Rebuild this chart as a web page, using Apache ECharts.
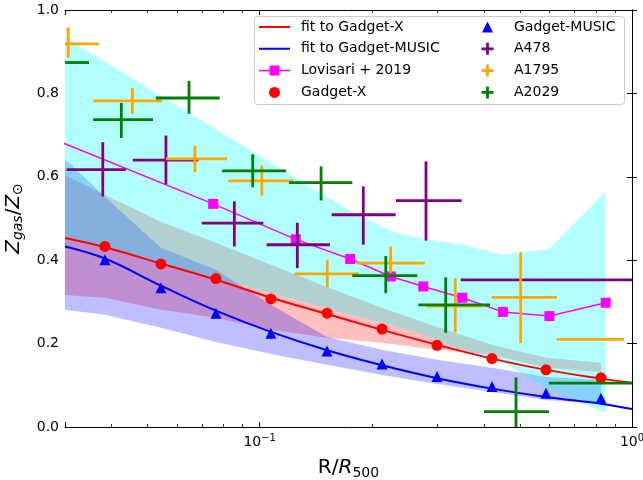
<!DOCTYPE html>
<html><head><meta charset="utf-8">
<script src="https://cdn.jsdelivr.net/npm/echarts@6/dist/echarts.min.js"></script>
<style>html,body{margin:0;padding:0;background:#fff}#c{width:643px;height:480px}</style>
</head><body><div id="c"></div>
<script>
// ---------- data ----------
const xMajorTicks = [0.1, 1];
const xMajorLabels = ['10{sup|−1}', '10{sup|0}'];
const xMinorTicks = [0.04, 0.05, 0.06, 0.07, 0.08, 0.09, 0.2, 0.3, 0.4, 0.5, 0.6, 0.7, 0.8, 0.9];

const gadgetR = [0.0384, 0.0543, 0.0763, 0.1072, 0.1517, 0.2131, 0.2995, 0.4207, 0.5876, 0.8257];
const gadgetXZ = [0.433, 0.391, 0.356, 0.307, 0.273, 0.235, 0.196, 0.164, 0.137, 0.118];
const musicZ = [0.401, 0.334, 0.273, 0.225, 0.182, 0.151, 0.121, 0.097, 0.081, 0.069];

const fitR = [0.03, 0.0384, 0.0543, 0.0763, 0.1072, 0.1517, 0.2131, 0.2995, 0.4207, 0.5876, 0.8257, 1.0];
const fitXZ = [0.453, 0.431, 0.392, 0.353, 0.310, 0.271, 0.233, 0.197, 0.164, 0.137, 0.116, 0.106];
const fitMusicZ = [0.433, 0.404, 0.339, 0.279, 0.228, 0.184, 0.148, 0.117, 0.092, 0.072, 0.056, 0.043];

const bandR = [0.0273, 0.0384, 0.0543, 0.0763, 0.1072, 0.1517, 0.2131, 0.2995, 0.4207, 0.5876, 0.8257];
const bandXUp = [0.622, 0.557, 0.492, 0.442, 0.389, 0.336, 0.286, 0.240, 0.197, 0.166, 0.154];
const bandXLo = [0.319, 0.310, 0.281, 0.262, 0.233, 0.214, 0.202, 0.185, 0.173, 0.142, 0.132];
const bandMUp = [0.677, 0.552, 0.430, 0.377, 0.293, 0.216, 0.185, 0.161, 0.142, 0.120, 0.113];
const bandMLo = [0.286, 0.269, 0.238, 0.204, 0.175, 0.149, 0.125, 0.103, 0.084, 0.065, 0.055];

const lovR = [0.025, 0.075, 0.125, 0.175, 0.225, 0.275, 0.35, 0.45, 0.6, 0.85];
const lovZ = [0.708, 0.535, 0.450, 0.403, 0.361, 0.337, 0.310, 0.276, 0.266, 0.298];
const lovUp = [0.977, 0.718, 0.598, 0.518, 0.470, 0.451, 0.437, 0.413, 0.427, 0.564];
const lovLo = [0.478, 0.358, 0.305, 0.269, 0.245, 0.221, 0.185, 0.156, 0.089, 0.034];

const a478R = [0.0379, 0.0560, 0.0855, 0.1262, 0.1898, 0.2797, 0.60];
const a478RLo = [0.0303, 0.0456, 0.0699, 0.1044, 0.1561, 0.2323, 0.3467];
const a478RHi = [0.0437, 0.0684, 0.1023, 0.1545, 0.2319, 0.3488, 1.05];
const a478Z = [0.617, 0.640, 0.489, 0.437, 0.509, 0.543, 0.353];
const a478ZLo = [0.553, 0.582, 0.433, 0.381, 0.437, 0.447, 0.353];
const a478ZHi = [0.683, 0.699, 0.541, 0.490, 0.577, 0.637, 0.353];

const a1795R = [0.0306, 0.0455, 0.0670, 0.1013, 0.1519, 0.2248, 0.3352, 0.5023, 0.771];
const a1795RLo = [0.0253, 0.0357, 0.0560, 0.0823, 0.1240, 0.1822, 0.2808, 0.4200, 0.628];
const a1795RHi = [0.0370, 0.0547, 0.0818, 0.1231, 0.1845, 0.2780, 0.4000, 0.6280, 0.952];
const a1795Z = [0.919, 0.782, 0.643, 0.590, 0.367, 0.393, 0.290, 0.311, 0.210];
const a1795ZLo = [0.886, 0.750, 0.611, 0.555, 0.335, 0.369, 0.227, 0.201, 0.210];
const a1795ZHi = [0.958, 0.813, 0.674, 0.627, 0.401, 0.433, 0.357, 0.419, 0.210];

const a2029R = [0.0290, 0.0425, 0.0646, 0.0958, 0.1462, 0.2181, 0.3160, 0.4880, 0.80];
const a2029RLo = [0.0240, 0.0357, 0.0526, 0.0793, 0.1199, 0.1773, 0.2667, 0.4004, 0.598];
const a2029RHi = [0.0348, 0.0517, 0.0781, 0.1177, 0.1773, 0.2651, 0.4157, 0.5984, 1.10];
const a2029Z = [0.874, 0.737, 0.789, 0.614, 0.586, 0.363, 0.293, 0.037, 0.105];
const a2029ZLo = [0.840, 0.693, 0.751, 0.575, 0.543, 0.321, 0.226, -0.05, 0.105];
const a2029ZHi = [0.910, 0.777, 0.830, 0.654, 0.625, 0.410, 0.359, 0.119, 0.105];

// ---------- helpers ----------
const FONT = 'DejaVu Sans';
// legend icons drawn in a 37 x 12 box (tiny corner slivers fix the box size)
const BOX = ' M36.95,0H37V0.05H36.95Z M0,11.95H0.05V12H0Z';
const ICON_LINE = 'path://M0,5H31V7H0Z' + BOX;
const ICON_LOV = 'path://M0,5.25H31V6.75H0Z M10.5,1H20.5V11H10.5Z' + BOX;
const ICON_CIRCLE = 'path://M10,6A5.5,5.5 0 1,0 21,6A5.5,5.5 0 1,0 10,6Z' + BOX;
const ICON_TRI = 'path://M15.5,0.5L21,11.5H10Z' + BOX;
const ICON_PLUS = 'path://M14.1,0H16.9V4.6H21.5V7.4H16.9V12H14.1V7.4H9.5V4.6H14.1Z' + BOX;

function bandSeries(name, xs, lo, hi, color) {
  return {
    type: 'custom', name: name, clip: true, silent: true, z: 1,
    data: xs.map((x, i) => [x, lo[i], hi[i]]),
    encode: { x: 0, y: [1, 2] },
    renderItem: function (params, api) {
      if (params.dataIndex !== 1) return null;
      const pts = [];
      for (let i = 0; i < xs.length; i++) pts.push(api.coord([xs[i], hi[i]]));
      for (let i = xs.length - 1; i >= 0; i--) pts.push(api.coord([xs[i], lo[i]]));
      return { type: 'polygon', shape: { points: pts }, style: { fill: color } };
    }
  };
}

function errSeries(name, color, xs, xl, xh, ys, yl, yh) {
  return {
    type: 'custom', name: name, clip: true, z: 5,
    itemStyle: { color: color },
    data: xs.map((x, i) => [x, xl[i], xh[i], ys[i], yl[i], yh[i]]),
    encode: { x: [0, 1, 2], y: [3, 4, 5] },
    renderItem: function (params, api) {
      const cs = params.coordSys;
      const x0 = cs.x, x1 = cs.x + cs.width, y0 = cs.y, y1 = cs.y + cs.height;
      const cl = (v, a, b) => Math.max(a, Math.min(b, v));
      const x = api.value(0), y = api.value(3);
      const a = api.coord([api.value(1), y]), b = api.coord([api.value(2), y]);
      const c = api.coord([x, api.value(4)]), d = api.coord([x, api.value(5)]);
      const st = { stroke: color, lineWidth: 2.8 };
      const ch = [];
      if (a[1] >= y0 && a[1] <= y1 && b[0] > x0 && a[0] < x1) {
        ch.push({ type: 'line', shape: { x1: cl(a[0], x0, x1), y1: a[1], x2: cl(b[0], x0, x1), y2: b[1] }, style: st });
      }
      if (c[0] >= x0 && c[0] <= x1 && Math.abs(c[1] - d[1]) > 0.5) {
        ch.push({ type: 'line', shape: { x1: c[0], y1: cl(c[1], y0, y1), x2: d[0], y2: cl(d[1], y0, y1) }, style: st });
      }
      return { type: 'group', children: ch };
    }
  };
}

const pair = (xs, ys) => xs.map((x, i) => [x, ys[i]]);
const logMin = 0.03, logMax = 1;

const legendCommon = {
  orient: 'vertical', top: 20, padding: 0, itemGap: 7.8, itemWidth: 37, itemHeight: 12,
  selectedMode: false, symbolKeepAspect: true, z: 6,
  textStyle: { fontFamily: FONT, fontSize: 14, color: '#000', lineHeight: 14 }
};

const option = {
  animation: false,
  backgroundColor: '#fff',
  grid: { left: 65, right: 11, top: 10, bottom: 53, containLabel: false, outerBoundsMode: 'none' },
  graphic: {
    elements: [{
      type: 'rect', z: 5, silent: true,
      shape: { x: 254.5, y: 16.5, width: 370, height: 88, r: 3 },
      style: { fill: 'rgba(255,255,255,0.8)', stroke: '#cccccc', lineWidth: 1 }
    }]
  },
  xAxis: [
    {
      type: 'log', logBase: 10, min: logMin, max: logMax, position: 'bottom',
      axisLine: { show: true, lineStyle: { color: '#000', width: 1 } },
      axisTick: { show: true, inside: true, length: 5, lineStyle: { color: '#000', width: 1 } },
      splitLine: { show: false },
      axisLabel: {
        show: true, margin: 6, fontFamily: FONT, fontSize: 14, color: '#000', lineHeight: 18,
        formatter: function (v) {
          for (let i = 0; i < xMajorTicks.length; i++) if (Math.abs(v - xMajorTicks[i]) < 1e-9) return xMajorLabels[i];
          return '';
        },
        rich: { sup: { fontFamily: FONT, fontSize: 10, lineHeight: 10, verticalAlign: 'top', color: '#000' } }
      },
      name: 'R/{i|R}{sub|500}', nameLocation: 'middle', nameGap: 26,
      nameTextStyle: {
        fontFamily: FONT, fontSize: 20, color: '#000', lineHeight: 24,
        rich: {
          i: { fontFamily: FONT, fontSize: 20, fontStyle: 'italic', lineHeight: 24, color: '#000' },
          sub: { fontFamily: FONT, fontSize: 14, lineHeight: 13, verticalAlign: 'bottom', color: '#000' }
        }
      }
    },
    {
      type: 'value', min: Math.log10(logMin), max: Math.log10(logMax), position: 'bottom',
      axisLine: { show: false }, splitLine: { show: false }, axisLabel: { show: false },
      axisTick: { show: true, inside: true, length: 3, lineStyle: { color: '#000', width: 0.8 }, customValues: xMinorTicks.map(Math.log10) }
    },
    {
      type: 'log', logBase: 10, min: logMin, max: logMax, position: 'top',
      axisLine: { show: true, lineStyle: { color: '#000', width: 1 } },
      axisTick: { show: true, inside: true, length: 5, lineStyle: { color: '#000', width: 1 } },
      splitLine: { show: false }, axisLabel: { show: false }
    },
    {
      type: 'value', min: Math.log10(logMin), max: Math.log10(logMax), position: 'top',
      axisLine: { show: false }, splitLine: { show: false }, axisLabel: { show: false },
      axisTick: { show: true, inside: true, length: 3, lineStyle: { color: '#000', width: 0.8 }, customValues: xMinorTicks.map(Math.log10) }
    }
  ],
  yAxis: [
    {
      type: 'value', min: 0, max: 1, interval: 0.2, position: 'left',
      axisLine: { show: true, lineStyle: { color: '#000', width: 1 } },
      axisTick: { show: true, inside: true, length: 5, lineStyle: { color: '#000', width: 1 } },
      splitLine: { show: false },
      axisLabel: { margin: 6, fontFamily: FONT, fontSize: 14, color: '#000', formatter: v => v.toFixed(1) },
      name: '{i|Z}{isub|gas}{n|/}{i|Z}{sub|⊙}', nameLocation: 'middle', nameGap: 35, nameRotate: 90,
      nameTextStyle: {
        fontFamily: FONT, fontSize: 20, color: '#000', lineHeight: 24,
        rich: {
          i: { fontFamily: FONT, fontSize: 20, fontStyle: 'italic', lineHeight: 24, color: '#000' },
          n: { fontFamily: FONT, fontSize: 20, lineHeight: 24, color: '#000' },
          isub: { fontFamily: FONT, fontSize: 14, fontStyle: 'italic', lineHeight: 13, verticalAlign: 'bottom', color: '#000' },
          sub: { fontFamily: FONT, fontSize: 14, lineHeight: 13, verticalAlign: 'bottom', color: '#000' }
        }
      }
    },
    {
      type: 'value', min: 0, max: 1, interval: 0.2, position: 'right',
      axisLine: { show: true, lineStyle: { color: '#000', width: 1 } },
      axisTick: { show: true, inside: true, length: 5, lineStyle: { color: '#000', width: 1 } },
      splitLine: { show: false }, axisLabel: { show: false }
    }
  ],
  legend: [
    Object.assign({}, legendCommon, {
      left: 259,
      data: [
        { name: 'fit to Gadget-X', icon: ICON_LINE, itemStyle: { color: '#ff0000' } },
        { name: 'fit to Gadget-MUSIC', icon: ICON_LINE, itemStyle: { color: '#0000ff' } },
        { name: 'Lovisari + 2019', icon: ICON_LOV, itemStyle: { color: '#ff00ff' } },
        { name: 'Gadget-X', icon: ICON_CIRCLE, itemStyle: { color: '#ff0000' } }
      ]
    }),
    Object.assign({}, legendCommon, {
      left: 472,
      data: [
        { name: 'Gadget-MUSIC', icon: ICON_TRI, itemStyle: { color: '#0000ff' } },
        { name: 'A478', icon: ICON_PLUS, itemStyle: { color: '#800080' } },
        { name: 'A1795', icon: ICON_PLUS, itemStyle: { color: '#ffa500' } },
        { name: 'A2029', icon: ICON_PLUS, itemStyle: { color: '#008000' } }]
    })
  ],
  series: [
    bandSeries('bandX', bandR, bandXLo, bandXUp, 'rgba(255,0,0,0.25)'),
    bandSeries('bandM', bandR, bandMLo, bandMUp, 'rgba(0,0,255,0.25)'),
    bandSeries('bandL', lovR, lovLo, lovUp, 'rgba(0,255,255,0.3)'),
    {
      type: 'line', name: 'fit to Gadget-X', data: pair(fitR, fitXZ), smooth: 0.4, symbol: 'none', z: 3,
      lineStyle: { color: '#ff0000', width: 2 }, itemStyle: { color: '#ff0000' }
    },
    {
      type: 'line', name: 'fit to Gadget-MUSIC', data: pair(fitR, fitMusicZ), smooth: 0.4, symbol: 'none', z: 3,
      lineStyle: { color: '#0000ff', width: 2 }, itemStyle: { color: '#0000ff' }
    },
    {
      type: 'line', name: 'Lovisari + 2019', data: pair(lovR, lovZ), symbol: 'rect', symbolSize: 10, showAllSymbol: true, z: 4,
      lineStyle: { color: '#ff00ff', width: 1.5 }, itemStyle: { color: '#ff00ff' }
    },
    {
      type: 'scatter', name: 'Gadget-X', data: pair(gadgetR, gadgetXZ), symbol: 'circle', symbolSize: 11, z: 4,
      itemStyle: { color: '#ff0000', opacity: 1 }
    },
    {
      type: 'scatter', name: 'Gadget-MUSIC', data: pair(gadgetR, musicZ), symbol: 'triangle', symbolSize: 11, z: 4,
      itemStyle: { color: '#0000ff', opacity: 1 }
    },
    errSeries('A478', '#800080', a478R, a478RLo, a478RHi, a478Z, a478ZLo, a478ZHi),
    errSeries('A1795', '#ffa500', a1795R, a1795RLo, a1795RHi, a1795Z, a1795ZLo, a1795ZHi),
    errSeries('A2029', '#008000', a2029R, a2029RLo, a2029RHi, a2029Z, a2029ZLo, a2029ZHi)
  ]
};

const chart = echarts.init(document.getElementById('c'), null, { renderer: 'canvas' });
chart.setOption(option);
</script></body></html>
